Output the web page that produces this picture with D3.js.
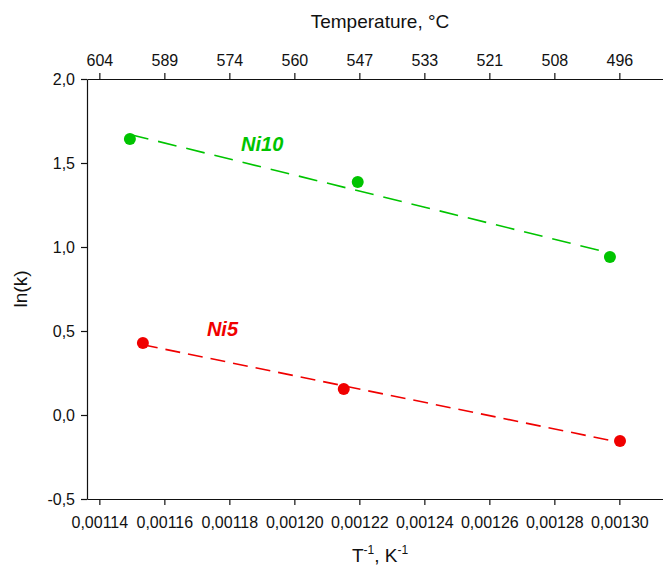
<!DOCTYPE html>
<html>
<head>
<meta charset="utf-8">
<script src="https://cdn.jsdelivr.net/npm/d3@7"></script>
<style>
  body { margin: 0; background: #fff; }
  svg { display: block; font-family: "Liberation Sans", Arial, sans-serif; }
</style>
</head>
<body>
<svg id="chart" width="663" height="568"></svg>
<script>
// inverse temperature, 1/K
const xTicks = [0.00114, 0.00116, 0.00118, 0.00120, 0.00122, 0.00124, 0.00126, 0.00128, 0.00130]
// temperature labels on the top axis, °C
const tempLabels = [604, 589, 574, 560, 547, 533, 521, 508, 496]
const yTicks = [-0.5, 0, 0.5, 1, 1.5, 2]

const ni10X = [0.0011494, 0.0012195, 0.0012971]
const ni10Y = [1.643, 1.387, 0.940]
const ni5X = [0.0011534, 0.0012152, 0.0013002]
const ni5Y = [0.429, 0.155, -0.155]

const svg = d3.select('#chart')
const plotLeft = 87, plotTop = 79, plotBottom = 499

const x = d3.scaleLinear()
	.domain([0.0011362, 0.0013200])
	.range([plotLeft, plotLeft + (0.0013200 - 0.0011362) / 0.00002 * 65])
const y = d3.scaleLinear().domain([-0.5, 2]).range([plotBottom, plotTop])

// comma decimals, plain hyphen for negatives
const loc = d3.formatLocale({decimal: ',', thousands: '', grouping: [3], currency: ['', ''], minus: '-'})
const fx = loc.format('.5f')
const fy = loc.format('.1f')

// axes
const gBottom = svg.append('g').attr('transform', `translate(0,${plotBottom})`)
	.call(d3.axisBottom(x).tickValues(xTicks).tickFormat(fx).tickSize(6).tickSizeOuter(0))
const gTop = svg.append('g').attr('transform', `translate(0,${plotTop})`)
	.call(d3.axisTop(x).tickValues(xTicks).tickFormat((d, i) => tempLabels[i]).tickSize(6).tickSizeOuter(0))
const gLeft = svg.append('g').attr('transform', `translate(${plotLeft},0)`)
	.call(d3.axisLeft(y).tickValues(yTicks).tickFormat(fy).tickSize(6).tickSizeOuter(0))

svg.selectAll('g').attr('font-family', null)
svg.selectAll('.tick text').attr('font-size', 16).attr('fill', '#111')
svg.selectAll('.domain, .tick line').attr('stroke', '#111').attr('stroke-width', 1.2)
gBottom.selectAll('.tick text').attr('y', 28.5).attr('dy', 0)
gTop.selectAll('.tick text').attr('y', -13).attr('dy', 0)
gLeft.selectAll('.tick text').attr('x', -12)

// axis titles
svg.append('text').attr('x', 380).attr('y', 28).attr('text-anchor', 'middle')
	.attr('font-size', 19).attr('fill', '#111').text('Temperature, °C')

const xt = svg.append('text').attr('x', 380).attr('y', 562).attr('text-anchor', 'middle')
	.attr('font-size', 19).attr('fill', '#111')
xt.append('tspan').text('T')
xt.append('tspan').attr('font-size', 12).attr('dy', -8).text('-1')
xt.append('tspan').attr('dy', 8).text(', K')
xt.append('tspan').attr('font-size', 12).attr('dy', -8).text('-1')

svg.append('text').attr('transform', 'translate(27,289) rotate(-90)')
	.attr('text-anchor', 'middle').attr('font-size', 19).attr('fill', '#111').text('ln(k)')

// linear fit for each series
function fit(xs, ys) {
	const mx = d3.mean(xs), my = d3.mean(ys)
	const b = d3.sum(xs, (v, i) => (v - mx) * (ys[i] - my)) / d3.sum(xs, v => (v - mx) * (v - mx))
	const a = my - b * mx
	const x0 = d3.min(xs), x1 = d3.max(xs)
	return [[x0, a + b * x0], [x1, a + b * x1]]
}

const series = [
	{xs: ni10X, ys: ni10Y, color: '#00c400', dash: '19,10', label: 'Ni10', lx: 0.0011836, ly: 1.571},
	{xs: ni5X, ys: ni5Y, color: '#f00000', dash: '15,8', label: 'Ni5', lx: 0.0011731, ly: 0.470}
]

const line = d3.line().x(d => x(d[0])).y(d => y(d[1]))

series.forEach(s => {
	svg.append('path').attr('d', line(fit(s.xs, s.ys)))
		.attr('fill', 'none').attr('stroke', s.color).attr('stroke-width', 1.6)
		.attr('stroke-dasharray', s.dash)
	svg.selectAll(null).data(s.xs).enter().append('circle')
		.attr('cx', d => x(d)).attr('cy', (d, i) => y(s.ys[i])).attr('r', 6)
		.attr('fill', s.color)
	svg.append('text').attr('x', x(s.lx)).attr('y', y(s.ly))
		.attr('font-size', 20).attr('font-weight', 'bold').attr('font-style', 'italic')
		.attr('fill', s.color).text(s.label)
})
</script>
</body>
</html>
